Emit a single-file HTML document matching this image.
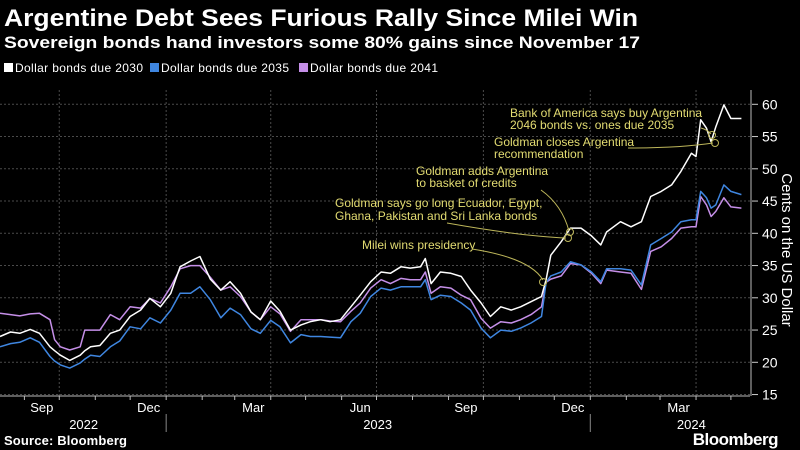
<!DOCTYPE html>
<html><head><meta charset="utf-8"><style>
body{margin:0;background:#000;width:800px;height:450px;overflow:hidden;font-family:"Liberation Sans",sans-serif;color:#fff}
svg{position:absolute;left:0;top:0}
</style></head><body>
<svg id="chart" width="800" height="450">
<text x="4" y="26" font-size="24" font-weight="bold" fill="#fff" textLength="634" lengthAdjust="spacingAndGlyphs">Argentine Debt Sees Furious Rally Since Milei Win</text>
<text x="4" y="48" font-size="17" font-weight="bold" fill="#fff" textLength="636" lengthAdjust="spacingAndGlyphs">Sovereign bonds hand investors some 80% gains since November 17</text>
<g font-size="12" fill="#fff">
<rect x="4" y="63" width="9" height="9" fill="#ffffff"/><text x="15" y="72" textLength="128">Dollar bonds due 2030</text>
<rect x="150" y="63" width="9" height="9" fill="#3f86e0"/><text x="161" y="72" textLength="128">Dollar bonds due 2035</text>
<rect x="299" y="63" width="9" height="9" fill="#c58fe8"/><text x="310" y="72" textLength="128">Dollar bonds due 2041</text>
</g>
<g id="grid"></g><g id="series"></g><g id="axes"></g>
<g fill="#e3dc72" font-size="12" stroke="none">
<text x="510" y="117">Bank of America says buy Argentina</text>
<text x="510" y="129">2046 bonds vs. ones due 2035</text>
<text x="494" y="146">Goldman closes Argentina</text>
<text x="494" y="158">recommendation</text>
<text x="416" y="175">Goldman adds Argentina</text>
<text x="416" y="187">to basket of credits</text>
<text x="335" y="207">Goldman says go long Ecuador, Egypt,</text>
<text x="335" y="220">Ghana, Pakistan and Sri Lanka bonds</text>
<text x="362" y="249">Milei wins presidency</text>
<g fill="none" stroke="#bdb65a" stroke-width="1">
<path d="M701,128 Q708,130 711,134"/>
<path d="M628,148 Q680,148 713,143"/>
<path d="M541,190 Q562,205 569,231"/>
<path d="M447,223 Q520,236 566,238"/>
<path d="M472,249 Q530,258 543,280"/>
<circle cx="712" cy="135" r="3.5"/>
<circle cx="715" cy="143" r="3.5"/>
<circle cx="570" cy="232" r="3.5"/>
<circle cx="568" cy="238" r="3.5"/>
<circle cx="543" cy="282" r="3.5"/>
</g></g>
<text transform="translate(782,250) rotate(90)" text-anchor="middle" font-size="15" fill="#fff">Cents on the US Dollar</text>
<text x="4" y="445" font-size="13" font-weight="bold" fill="#fff" textLength="123">Source: Bloomberg</text>
<text x="778" y="445" text-anchor="end" font-size="17" font-weight="bold" fill="#fff" letter-spacing="-0.5">Bloomberg</text>
</svg>
<script>
// days since 2022-08-11
const days=[0,9,17,26,34,43,47,52,60,69,73,78,86,95,103,112,121,129,138,147,155,164,172,181,190,198,207,216,224,233,241,250,259,267,276,284,293,302,310,319,328,336,345,353,362,366,371,379,388,397,405,414,422,431,440,448,457,466,470,474,483,491,500,509,517,522,534,543,552,560,569,578,586,595,599,603,608,612,616,623,629,638];
const bonds2030=[24.0,24.7,24.5,25.1,24.5,22.4,21.8,21.1,20.3,21.1,21.8,22.4,22.6,24.5,25.0,27.1,28.1,29.9,28.6,30.7,34.8,35.7,36.4,32.9,31.2,32.5,30.7,27.8,26.6,29.5,27.9,25.0,25.8,26.3,26.6,26.3,26.6,28.6,30.4,32.5,34.0,33.8,34.8,34.6,34.8,36.1,32.2,34.0,33.8,33.3,31.2,29.2,27.1,28.6,28.1,28.6,29.4,30.2,32.8,36.6,38.7,40.8,40.8,39.6,38.2,40.2,41.8,41.0,41.8,45.7,46.5,47.5,49.6,52.4,51.9,57.6,56.3,54.2,56.5,59.9,57.8,57.8];
const bonds2041=[27.6,27.4,27.2,27.5,27.6,26.6,23.5,22.4,21.9,22.4,25.0,25.0,25.0,27.4,26.6,28.6,28.4,29.9,29.2,31.7,34.5,35.0,35.0,33.2,31.2,31.7,30.2,27.8,26.6,28.6,27.5,24.8,26.6,26.6,26.6,26.4,26.3,27.9,29.2,31.5,32.8,32.2,33.0,32.8,32.8,34.0,30.7,31.7,31.5,30.4,29.7,26.8,25.3,26.3,26.1,26.6,27.4,28.6,32.4,32.9,33.4,35.3,35.1,33.8,32.2,34.3,34.0,33.8,31.3,37.2,37.9,39.2,40.8,41.0,41.0,45.7,44.4,42.6,43.4,45.5,44.1,43.9];
const bonds2035=[22.4,22.9,23.1,23.8,23.1,20.9,20.2,19.6,19.1,19.9,20.5,21.1,20.9,22.4,23.3,25.5,25.2,26.9,26.1,28.1,30.7,30.7,31.7,29.7,26.9,28.4,27.4,25.2,24.5,26.5,25.5,23.0,24.3,24.0,24.0,23.9,23.8,26.3,27.6,30.2,31.5,31.2,31.7,31.7,31.7,32.8,29.7,30.4,30.2,29.2,28.1,25.3,23.8,25.0,24.8,25.3,26.1,27.1,32.4,33.4,34.0,35.6,35.1,34.0,32.5,34.5,34.5,34.3,32.0,38.2,39.2,40.2,41.8,42.1,42.1,46.5,45.5,43.9,44.4,47.5,46.5,46.0];
const yTicks=[15,20,25,30,35,40,45,50,55,60];
const monthLabels=["Sep","Dec","Mar","Jun","Sep","Dec","Mar"];
const monthLabelDays=[36,128,218,310,401,493,584];
const gridDays=[51,143,233,324,416,508,599];
const minorTickDays=[21,51,82,112,143,174,202,233,263,294,324,355,386,416,447,477,508,539,568,599,629];
const yearLabels=["2022","2023","2024"];
const yearLabelDays=[72,325,595];
const yearSepDays=[143,508];
const NS="http://www.w3.org/2000/svg";
const xS=d=>d*1.162;
const yS=v=>104.3+(60-v)*6.45;
const bottom=396;
function mk(tag,attrs,parent){const e=document.createElementNS(NS,tag);for(const k in attrs)e.setAttribute(k,attrs[k]);parent.appendChild(e);return e;}
const grid=document.getElementById('grid'),ser=document.getElementById('series'),ax=document.getElementById('axes');
yTicks.forEach(v=>{
 const l=mk('line',{x1:0,x2:750,y1:yS(v),y2:yS(v),stroke:'#4a4a4a','stroke-dasharray':'2,2'},grid);
 
 
 const t=mk('text',{x:762,y:yS(v)+5,'font-size':14,fill:'#fff'},ax);t.textContent=v;
 
 
 const tk=mk('line',{x1:752,x2:758,y1:yS(v),y2:yS(v),stroke:'#ccc'},ax);
 
 
});
gridDays.forEach(d=>{
 const l=mk('line',{x1:xS(d),x2:xS(d),y1:90,y2:bottom,stroke:'#4a4a4a','stroke-dasharray':'2,2'},grid);
 
 
});
const axl=mk('line',{x1:0,x2:750,y1:bottom,y2:bottom,stroke:'#bbb'},ax);


const yl=mk('line',{x1:751,x2:751,y1:90,y2:bottom,stroke:'#bbb'},ax);


minorTickDays.forEach(d=>{
 const t=mk('line',{x1:xS(d),x2:xS(d),y1:bottom,y2:bottom+4,stroke:'#bbb'},ax);
 
 
});
monthLabels.forEach((m,i)=>{
 const t=mk('text',{x:xS(monthLabelDays[i]),y:412,'text-anchor':'middle','font-size':13,fill:'#fff'},ax);t.textContent=m;
 
 
});
yearLabels.forEach((m,i)=>{
 const t=mk('text',{x:xS(yearLabelDays[i]),y:429,'text-anchor':'middle','font-size':13,fill:'#fff'},ax);t.textContent=m;
 
 
});
yearSepDays.forEach(d=>{
 const l=mk('line',{x1:xS(d),x2:xS(d),y1:414,y2:432,stroke:'#888'},ax);
 
 
});
function line(vals,color,name){
 const d=vals.map((v,i)=>(i?'L':'M')+xS(days[i]).toFixed(1)+','+yS(v).toFixed(1)).join(' ');
 const p=mk('path',{d:d,fill:'none',stroke:color,'stroke-width':1.5,'stroke-linejoin':'round'},ser);
 
 
}
line(bonds2041,'#c58fe8','line-bonds-2041');
line(bonds2035,'#3f86e0','line-bonds-2035');
line(bonds2030,'#ffffff','line-bonds-2030');
</script>
</body></html>
